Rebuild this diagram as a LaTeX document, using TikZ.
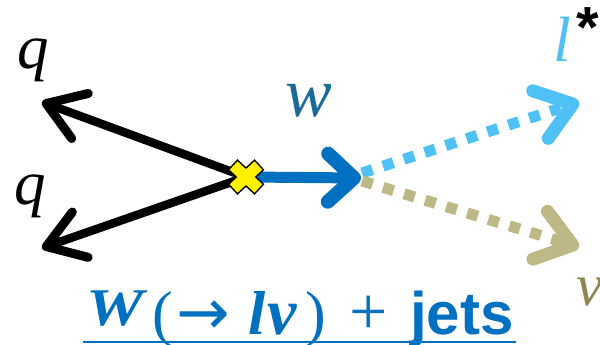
\documentclass[tikz,border=0pt]{standalone}
\usepackage{fontspec}
\newfontfamily\jetsfont{Liberation Sans}
\newfontfamily\mfont{Liberation Serif}
\newfontfamily\arrfont{DejaVu Sans}
\usetikzlibrary{arrows.meta}
\definecolor{wblue}{HTML}{0070C0}
\definecolor{lblue}{HTML}{4FC1F5}
\definecolor{tanc}{HTML}{BEB786}
\definecolor{nutan}{HTML}{8F8652}
\definecolor{wlab}{HTML}{1A6A9A}
\begin{document}
\begin{tikzpicture}[x=1pt,y=-1pt,
  quark/.style={line width=8.5pt,black,
    -{Straight Barb[round,length=36pt,width=48pt,line width=9pt]}},
  boson/.style={line width=11pt,wblue,
    -{Straight Barb[round,length=26pt,width=48pt,line width=14pt]}},
  lepton/.style={line width=11pt,dash pattern=on 11pt off 11pt,
    -{Straight Barb[round,length=34pt,width=50pt,line width=13pt]}},
  lab/.style={inner sep=0pt,anchor=base west},
]
\useasboundingbox (0,0) rectangle (600,345);
% points
\coordinate (v) at (246,177);
\coordinate (q1) at (42,102);
\coordinate (q2) at (42,248);
\coordinate (wt) at (361,178);
\coordinate (ls) at (362,173);
\coordinate (ns) at (362,181);
\coordinate (lt) at (579,102);
\coordinate (nt) at (579,247);
% connectors
\draw[quark] (v) -- (q1);
\draw[quark] (v) -- (q2);
\draw[boson] (v) -- (wt);
\draw[lepton,lblue] (ls) -- (lt);
\draw[lepton,tanc] (ns) -- (nt);
% vertex cross
\draw[line width=14.5pt,black] ([shift={(-13.5,-12.5)}]v) -- ([shift={(13.5,12.5)}]v);
\draw[line width=14.5pt,black] ([shift={(-13.5,12.5)}]v) -- ([shift={(13.5,-12.5)}]v);
\draw[line width=11.5pt,yellow,shorten <=1.5pt,shorten >=1.5pt] ([shift={(-13.5,-12.5)}]v) -- ([shift={(13.5,12.5)}]v);
\draw[line width=11.5pt,yellow,shorten <=1.5pt,shorten >=1.5pt] ([shift={(-13.5,12.5)}]v) -- ([shift={(13.5,-12.5)}]v);
% labels
\node[lab,font=\mfont\itshape\fontsize{63}{63}\selectfont] (lq1) at (17,69) {q};
\node[lab,font=\mfont\itshape\fontsize{63}{63}\selectfont] (lq2) at (14,204) {q};
\node[lab,font=\mfont\itshape\fontsize{70}{70}\selectfont,text=wlab] (lw) at (285,117) {w};
\node[lab,font=\mfont\itshape\fontsize{64}{64}\selectfont,text=lblue] (ll) at (553,62) {l};
\node[lab,font=\jetsfont\bfseries\fontsize{58}{58}\selectfont] (star) at (576,48) {*};
\node[lab,font=\mfont\itshape\fontsize{60}{60}\selectfont,text=nutan] (lnu) at (576,305) {ν};
\node[lab,font=\mfont\fontsize{62}{62}\selectfont,text=wblue] (title) at (86,334)
  {\makebox[66pt][l]{\raisebox{9pt}{\scalebox{1.22}[1]{\fontsize{53}{53}\selectfont\bfseries\itshape W}}}%
   \makebox[24pt][l]{(}%
   \makebox[72pt][l]{\arrfont\fontsize{64}{64}\selectfont →}%
   \makebox[19pt][l]{\fontsize{62}{62}\selectfont\bfseries\itshape l}%
   \makebox[38pt][l]{\fontsize{66}{66}\selectfont\bfseries\itshape ν}%
   \makebox[44pt][l]{)}%
   \makebox[61pt][l]{\fontsize{68}{68}\selectfont +}%
   {\jetsfont\bfseries\fontsize{60}{60}\selectfont jets}};
\draw[wblue,line width=2.5pt] ([shift={(-3,8)}]title.base west) -- ([shift={(2,8)}]title.base east);
\end{tikzpicture}
\end{document}
